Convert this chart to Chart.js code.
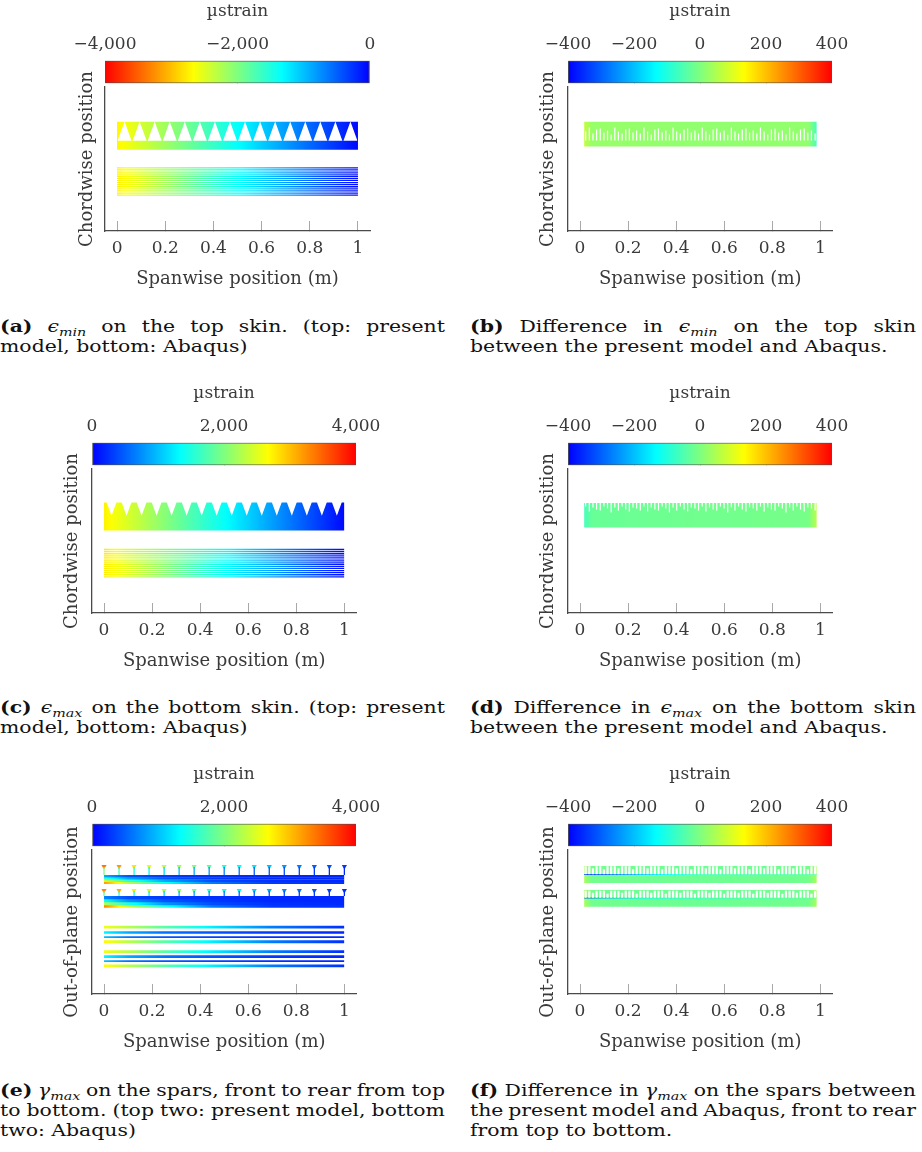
<!DOCTYPE html>
<html><head><meta charset="utf-8">
<script src="https://cdn.jsdelivr.net/npm/chart.js@4.4.1/dist/chart.umd.min.js"></script>
<style>
html,body{margin:0;padding:0;background:#fff;}
body{width:922px;height:1152px;position:relative;overflow:hidden;font-family:"DejaVu Serif",serif;}
canvas{position:absolute;}
.cap{position:absolute;font-size:17px;line-height:20px;color:#111;transform:scaleX(1.2);transform-origin:0 0;white-space:nowrap;}
.cap .j{text-align:justify;text-align-last:justify;word-spacing:-3px;}
.cap sub{font-size:0.7em;vertical-align:-0.3em;line-height:0;font-style:italic;}
</style></head><body>

<div class="cap" style="left:0px;top:316px;width:370.8px">
<div class="j"><b>(a)</b> <i>ϵ</i><sub>min</sub> on the top skin. (top: present</div>
<div>model, bottom: Abaqus)</div></div>
<div class="cap" style="left:470px;top:316px;width:371.7px">
<div class="j"><b>(b)</b> Difference in <i>ϵ</i><sub>min</sub> on the top skin</div>
<div>between the present model and Abaqus.</div></div>
<div class="cap" style="left:0px;top:697px;width:370.8px">
<div class="j"><b>(c)</b> <i>ϵ</i><sub>max</sub> on the bottom skin. (top: present</div>
<div>model, bottom: Abaqus)</div></div>
<div class="cap" style="left:470px;top:697px;width:371.7px">
<div class="j"><b>(d)</b> Difference in <i>ϵ</i><sub>max</sub> on the bottom skin</div>
<div>between the present model and Abaqus.</div></div>
<div class="cap" style="left:0px;top:1080px;width:370.8px">
<div class="j"><b>(e)</b> <i>γ</i><sub>max</sub> on the spars, front to rear from top</div>
<div class="j">to bottom. (top two: present model, bottom</div>
<div>two: Abaqus)</div></div>
<div class="cap" style="left:470px;top:1080px;width:371.7px">
<div class="j"><b>(f)</b> Difference in <i>γ</i><sub>max</sub> on the spars between</div>
<div class="j">the present model and Abaqus, front to rear</div>
<div>from top to bottom.</div></div>

<script>
// ===================== DATA =====================
const X_TICKS = [0, 0.2, 0.4, 0.6, 0.8, 1];
const STRAIN_CB_TICKS_NEG = [-4000, -2000, 0];
const STRAIN_CB_TICKS_POS = [0, 2000, 4000];
const DIFF_CB_TICKS = [-400, -200, 0, 200, 400];

// stiffener (stringer run-out / rib) positions along the span
const STIFFENERS = [0.03125, 0.09375, 0.15625, 0.21875, 0.28125, 0.34375, 0.40625, 0.46875,
                    0.53125, 0.59375, 0.65625, 0.71875, 0.78125, 0.84375, 0.90625, 0.96875];
const RIB_STATIONS = [0, 0.0625, 0.125, 0.1875, 0.25, 0.3125, 0.375, 0.4375, 0.5,
                      0.5625, 0.625, 0.6875, 0.75, 0.8125, 0.875, 0.9375, 1];
const SPAN_STATIONS = [0, 0.25, 0.5, 0.75, 1];
const ROOT_STATIONS = [0, 0.1, 0.25, 0.45, 0.7, 1];

// (a) eps_min, top skin (µstrain)
const A_MODEL = [-2720, -2030, -1350, -680, -30];
const A_ABAQUS = [-2760, -2050, -1360, -690, -30];
const A_ABAQUS_ROWS = [80.0, 82.1, 84.2, 86.3, 88.4, 90.5, 92.6, 94.7, 96.8, 98.9, 101.0, 103.1, 105.2, 107.3];

// (b) difference eps_min
const B_DIFF_X = [0.017, 0.05, 0.5, 0.95, 0.985];
const B_DIFF = [70, 25, 18, 20, -60];
const B_SPIKE_LEN = [9,13,7,11,12,8,10,6,13,9,7,11,12,8,10,7,13,9,6,11,12,8,10,6,13,9,7,11,12,8,10,7,
                     13,9,6,11,12,8,10,6,13,9,7,11,12,8,10,7,13,9,6,11,12,8,10,6,13,9,7,11,12,8,10,7];

// (c) eps_max, bottom skin
const C_MODEL = [2740, 2050, 1360, 690, 40];
const C_ABAQUS = [2780, 2070, 1370, 700, 40];
const C_ABAQUS_ROWS = [79.7, 81.8, 83.9, 86.0, 88.1, 90.2, 92.3, 94.4, 96.5, 98.6, 100.7, 102.8, 104.9, 107.0];

// (d) difference eps_max
const D_DIFF_X = [0.017, 0.05, 0.5, 0.95, 0.985];
const D_DIFF = [-60, -25, -15, -10, 60];
const D_SPIKE_LEN = [4,9,5,7,8,4,6,10,5,8,4,7,9,5,6,8,4,9,5,7,8,4,6,10,5,8,4,7,9,5,6,8,
                     4,9,5,7,8,4,6,10,5,8,4,7,9,5,6,8,4,9,5,7,8,4,6,10,5,8,4,7,9,5,6,8];

// (e) gamma_max, spars (present model: heads + webs; Abaqus: lines)
const E_HEAD_1 = [3400, 3200, 2800, 2500, 2300, 2150, 2000, 1800, 1500, 1350, 1200, 1000, 800, 650, 500, 400, 300];
const E_HEAD_2 = [3300, 3100, 2750, 2450, 2250, 2100, 1900, 1600, 1450, 1300, 1100, 900, 750, 600, 450, 350, 250];
const E_STEM_1 = [2000, 1700, 1500, 1300, 1150, 1000, 900, 800, 700, 600, 500, 450, 400, 350, 300, 250, 200];
const E_STEM_2 = [1900, 1600, 1400, 1250, 1100, 950, 850, 750, 650, 550, 500, 450, 400, 350, 300, 250, 200];
const E_SPAR1_ROWS = [[25, 27.3], [27.3, 29.6], [29.6, 31.8], [31.8, 34]];
const E_SPAR1 = [[900, 450, 300, 250, 200, 200], [1600, 900, 450, 300, 200, 200],
                 [2400, 1600, 900, 400, 250, 200], [3200, 2300, 1400, 650, 300, 250]];
const E_SPAR2_ROWS = [[46, 49], [49, 52], [52, 55], [55, 57.7]];
const E_SPAR2 = [[700, 400, 300, 250, 200, 200], [1400, 800, 450, 300, 200, 200],
                 [2300, 1500, 800, 400, 250, 200], [3300, 2400, 1500, 650, 300, 250]];
const E_ABAQUS_ROWS = [[75.7, 78.3], [81, 83.7], [86, 87.7], [90, 93], [100, 102.7], [105, 107.7], [110, 111.7], [114.3, 117]];
const E_ABAQUS = [[2600, 2300, 1800, 1250, 650, 250], [1300, 900, 600, 450, 300, 200],
                  [1000, 600, 450, 350, 250, 200], [2700, 2300, 1800, 1250, 650, 250],
                  [2600, 2300, 1800, 1250, 650, 250], [1300, 900, 600, 450, 300, 200],
                  [1000, 600, 450, 350, 250, 200], [2700, 2300, 1800, 1250, 650, 250]];

// (f) difference gamma_max
const F_DIFF_X = [0.017, 0.05, 0.5, 0.95, 0.985];
const F_DIFF_1 = [40, -15, -20, -15, 40];
const F_DIFF_2 = [40, -15, -20, -15, 40];
const F_EDGE_X = [0.017, 0.1, 0.25, 0.5, 0.985];
const F_EDGE_1 = [-330, -300, -200, -60, -40];
const F_EDGE_2 = [-300, -220, -150, -90, -40];
const F_SPIKE_1 = [8,8,6,8,8,5,8,8,8,6,8,8,8,5,8,8,8,6,8,8,8,5,8,8,8,6,8,8,8,5,8,8,
                   8,6,8,8,8,5,8,8,8,6,8,8,8,5,8,8,8,6,8,8,8,5,8,8,8,6,8,8,8,5,8,8];
const F_SPIKE_2 = [7,7,5,7,7,7,4,7,7,7,5,7,7,7,4,7,7,7,5,7,7,7,4,7,7,7,5,7,7,7,4,7,
                   7,7,5,7,7,7,4,7,7,7,5,7,7,7,4,7,7,7,5,7,7,7,4,7,7,7,5,7,7,7,4,7];

// ===================== HELPERS =====================
const LH = 17 * 1.2;
const FONT = {family: '"DejaVu Serif", serif', size: 17};
const TFONT = {family: '"DejaVu Serif", serif', size: 18};
const TLH = 18 * 1.2;
const TXT = '#3a3a3a';
Chart.defaults.font.family = FONT.family;
const CMAP = [[0, [0, 0, 255]], [1/3, [0, 255, 255]], [2/3, [255, 255, 0]], [1, [255, 0, 0]]];
function rgb(c){ return 'rgb(' + c.map(Math.round).join(',') + ')'; }
function cmap(t){
  t = Math.max(0, Math.min(1, t));
  for (let i = 1; i < CMAP.length; i++) {
    if (t <= CMAP[i][0]) {
      const [t0, c0] = CMAP[i-1], [t1, c1] = CMAP[i];
      const f = (t - t0) / (t1 - t0);
      return rgb(c0.map((c, k) => c + (c1[k] - c) * f));
    }
  }
  return rgb(CMAP[CMAP.length-1][1]);
}
function colorOf(v, cb){ let t = (v - cb.min) / (cb.max - cb.min); if (cb.reverse) t = 1 - t; return cmap(t); }
function interp(xs, vs, x){
  if (x <= xs[0]) return vs[0];
  for (let i = 1; i < xs.length; i++) if (x <= xs[i]) { const f = (x - xs[i-1]) / (xs[i] - xs[i-1]); return vs[i-1] + (vs[i] - vs[i-1]) * f; }
  return vs[vs.length-1];
}
function grad(cb, xs, vs){
  return (ctx) => {
    const ch = ctx.chart;
    if (!ch.chartArea) return colorOf(vs[0], cb);
    const sx = ch.scales.x, a = xs[0], b = xs[xs.length-1];
    const g = ch.ctx.createLinearGradient(sx.getPixelForValue(a), 0, sx.getPixelForValue(b), 0);
    for (let k = 0; k <= 60; k++) { const f = k / 60; g.addColorStop(f, colorOf(interp(xs, vs, a + (b - a) * f), cb)); }
    return g;
  };
}
const NONE = 'rgba(0,0,0,0)';
function band(x0, x1, y0, y1, bg, order){
  return {type: 'line', data: [{x: x0, y: y0}, {x: x1, y: y0}], fill: {value: y1}, backgroundColor: bg,
          borderColor: NONE, borderWidth: 0, pointRadius: 0, order: order ?? 5};
}
function teethUp(pos, hw, yApex, yBase){
  const pts = []; pos.forEach(s => pts.push({x: s - hw, y: yBase}, {x: s, y: yApex}, {x: s + hw, y: yBase}));
  return {type: 'line', data: pts, fill: {value: yBase}, backgroundColor: '#fff', borderColor: NONE, borderWidth: 0, pointRadius: 0, order: 2};
}
function teethDown(pos, hw, yTop, yApex){
  const pts = []; pos.forEach(s => pts.push({x: s - hw, y: yTop}, {x: s, y: yApex}, {x: s + hw, y: yTop}));
  return {type: 'line', data: pts, fill: {value: yTop}, backgroundColor: '#fff', borderColor: NONE, borderWidth: 0, pointRadius: 0, order: 2};
}
function combX(n, a, b){ const xs = []; for (let i = 0; i < n; i++) xs.push(a + (b - a) * i / (n - 1)); return xs; }
function spikes(xs, yFrom, lens, dir, width){
  const pts = [];
  xs.forEach((x, i) => pts.push({x, y: yFrom}, {x, y: yFrom + dir * lens[i]}, {x, y: null}));
  return {type: 'line', data: pts, borderColor: '#fff', borderWidth: width, pointRadius: 0, fill: false, spanGaps: false, order: 2};
}
function stems(xs, y0, y1, vals, cb){
  const pts = [];
  xs.forEach(x => pts.push({x, y: y0}, {x, y: y1}, {x, y: null}));
  return {type: 'line', data: pts, borderColor: colorOf(vals[0], cb), borderWidth: 1.3, pointRadius: 0, fill: false, spanGaps: false, order: 1,
          segment: {borderColor: c => colorOf(vals[Math.floor(c.p0DataIndex / 3)], cb)}};
}
function heads(xs, y, vals, cb){
  return {type: 'line', data: xs.map(x => ({x, y})), showLine: false, pointStyle: 'triangle', pointRotation: 180,
          pointRadius: 3, pointBackgroundColor: vals.map(v => colorOf(v, cb)), pointBorderWidth: 0, order: 1};
}
function fmtNum(v){ return (v < 0 ? '\u2212' : '') + Math.abs(v).toLocaleString('en-US'); }

// ===================== PANELS =====================
const CB_STRAIN_NEG = {min: -4000, max: 0, reverse: true, ticks: STRAIN_CB_TICKS_NEG};
const CB_STRAIN_POS = {min: 0, max: 4000, reverse: false, ticks: STRAIN_CB_TICKS_POS};
const CB_DIFF = {min: -400, max: 400, reverse: false, ticks: DIFF_CB_TICKS};
const ROW_DY = [0, 381.5, 762.6];
const ROW0 = {cbTitleY: 12, cbLabelY: 44.3, cbTop: 60.7, cbBot: 83.3, plotTop: 87.3, plotBot: 231, tickY: 248.3, xTitleY: 279.3};
function rowGeom(r){ const o = {}; for (const k in ROW0) o[k] = ROW0[k] + ROW_DY[r]; return o; }

const combB = combX(64, 0.0235, 0.978);
const panels = [
  {row: 0, plotLeft: 105, plotRight: 370, ylabelX: 87, ylabel: 'Chordwise position', cb: CB_STRAIN_NEG,
   sets: cb => [
     band(0, 1, 34.7, 62.7, grad(cb, SPAN_STATIONS, A_MODEL)),
     teethUp(STIFFENERS, 0.029, 34.4, 53.7),
     ...A_ABAQUS_ROWS.map(r => band(0, 1, r, r + 1.3, grad(cb, SPAN_STATIONS, A_ABAQUS)))
   ]},
  {row: 0, plotLeft: 568.3, plotRight: 832.7, ylabelX: 549, ylabel: 'Chordwise position', cb: CB_DIFF,
   sets: cb => [
     band(0.017, 0.985, 34.7, 59.4, grad(cb, B_DIFF_X, B_DIFF)),
     spikes(combB, 53.4, B_SPIKE_LEN, -1, 1.2)
   ]},
  {row: 1, plotLeft: 92.3, plotRight: 356.7, ylabelX: 72.3, ylabel: 'Chordwise position', cb: CB_STRAIN_POS,
   sets: cb => [
     band(0, 1, 33.4, 61.4, grad(cb, SPAN_STATIONS, C_MODEL)),
     teethDown(STIFFENERS, 0.021, 32.9, 46.7),
     ...C_ABAQUS_ROWS.map(r => band(0, 1, r, r + 1.3, grad(cb, SPAN_STATIONS, C_ABAQUS)))
   ]},
  {row: 1, plotLeft: 568.3, plotRight: 832.7, ylabelX: 549, ylabel: 'Chordwise position', cb: CB_DIFF,
   sets: cb => [
     band(0.017, 0.985, 34, 58.4, grad(cb, D_DIFF_X, D_DIFF)),
     spikes(combB, 33.5, D_SPIKE_LEN, 1, 1.2)
   ]},
  {row: 2, plotLeft: 92.3, plotRight: 356.7, ylabelX: 72.3, ylabel: 'Out-of-plane position', cb: CB_STRAIN_POS,
   sets: cb => [
     ...E_SPAR1_ROWS.map((r, i) => band(0, 1, r[0], r[1] + 0.05, grad(cb, ROOT_STATIONS, E_SPAR1[i]))),
     ...E_SPAR2_ROWS.map((r, i) => band(0, 1, r[0], r[1] + 0.05, grad(cb, ROOT_STATIONS, E_SPAR2[i]))),
     stems(RIB_STATIONS, 17, 25, E_STEM_1, cb),
     heads(RIB_STATIONS, 16.5, E_HEAD_1, cb),
     stems(RIB_STATIONS, 41, 46, E_STEM_2, cb),
     heads(RIB_STATIONS, 40.5, E_HEAD_2, cb),
     ...E_ABAQUS_ROWS.map((r, i) => band(0, 1, r[0], r[1], grad(cb, ROOT_STATIONS, E_ABAQUS[i])))
   ]},
  {row: 2, plotLeft: 568.3, plotRight: 832.7, ylabelX: 549, ylabel: 'Out-of-plane position', cb: CB_DIFF,
   sets: cb => [
     band(0.017, 0.985, 16, 33, grad(cb, F_DIFF_X, F_DIFF_1)),
     band(0.017, 0.985, 24, 24.9, grad(cb, F_EDGE_X, F_EDGE_1), 4),
     spikes(combB, 24.2, F_SPIKE_1, -1, 2.2),
     band(0.017, 0.985, 40, 56.7, grad(cb, F_DIFF_X, F_DIFF_2)),
     band(0.017, 0.985, 47.4, 48.3, grad(cb, F_EDGE_X, F_EDGE_2), 4),
     spikes(combB, 47.6, F_SPIKE_2, -1, 2.2)
   ]}
];

// ===================== CHARTS =====================
function addCanvas(left, top, w, h){
  const c = document.createElement('canvas');
  c.width = Math.round(w); c.height = Math.round(h);
  c.style.left = left + 'px'; c.style.top = top + 'px';
  c.style.width = Math.round(w) + 'px'; c.style.height = Math.round(h) + 'px';
  document.body.appendChild(c);
  return c;
}
function makeColorbar(p, g){
  const PAD = 50, cb = p.cb;
  const left = p.plotLeft - PAD, top = g.cbTitleY - 14;
  const cbW = p.plotRight - p.plotLeft, cbH = g.cbBot - g.cbTop, CH = g.cbTop - top;
  const c = addCanvas(left, top, cbW + 2 * PAD, CH + cbH + 3);
  new Chart(c, {
    type: 'bar',
    data: {labels: ['µstrain'], datasets: [{data: [[cb.min, cb.max]],
      backgroundColor: (ctx) => {
        const ch = ctx.chart; if (!ch.chartArea) return '#888';
        const sx = ch.scales.x;
        const gr = ch.ctx.createLinearGradient(sx.getPixelForValue(cb.min), 0, sx.getPixelForValue(cb.max), 0);
        CMAP.forEach(([t, col]) => gr.addColorStop(cb.reverse ? 1 - t : t, rgb(col)));
        return gr;
      },
      borderColor: '#505050', borderWidth: 1.2, borderSkipped: false, barPercentage: 1, categoryPercentage: 1}]},
    options: {indexAxis: 'y', responsive: false, animation: false, devicePixelRatio: 1,
      layout: {padding: {left: PAD, right: PAD, top: 0, bottom: c.height - CH - cbH}},
      plugins: {legend: {display: false}, tooltip: {enabled: false}},
      scales: {
        x: {type: 'linear', position: 'top', min: cb.min, max: cb.max, z: 1,
            afterBuildTicks: s => { s.ticks = cb.ticks.map(v => ({value: v})); },
            ticks: {callback: v => fmtNum(v), font: FONT, color: TXT, padding: g.cbTop - g.cbLabelY - LH / 2, maxRotation: 0, autoSkip: false},
            grid: {drawOnChartArea: true, drawTicks: false, lineWidth: 1,
                   color: ctx => (ctx.tick && ctx.tick.value > cb.min && ctx.tick.value < cb.max) ? '#8c8c8c' : NONE},
            border: {display: false},
            title: {display: true, text: 'µstrain', font: FONT, color: TXT, padding: {top: 14 - LH / 2, bottom: 0}},
            afterFit: s => { s.height = CH; }},
        y: {display: false}
      }}
  });
}
function makePlot(p, g){
  const YW = 34, PT = 40, XH = 72, PR = 16, TICKLEN = 10;
  const plotW = p.plotRight - p.plotLeft, plotH = g.plotBot - g.plotTop;
  const left = p.plotLeft - YW, top = g.plotTop - PT;
  const c = addCanvas(left, top, YW + plotW + PR, PT + plotH + XH);
  new Chart(c, {
    type: 'line',
    data: {datasets: p.sets(p.cb)},
    options: {responsive: false, animation: false, devicePixelRatio: 1,
      layout: {padding: {left: 0, right: c.width - YW - plotW, top: PT, bottom: 0}},
      plugins: {legend: {display: false}, tooltip: {enabled: false}},
      elements: {line: {tension: 0}, point: {radius: 0, hoverRadius: 0}},
      scales: {
        x: {type: 'linear', min: -0.05, max: 1.05,
            afterBuildTicks: s => { s.ticks = X_TICKS.map(v => ({value: v})); },
            ticks: {callback: v => String(v), font: FONT, color: TXT, padding: g.tickY - g.plotBot + TICKLEN - LH / 2, maxRotation: 0, autoSkip: false},
            grid: {drawOnChartArea: false, drawTicks: true, tickLength: -TICKLEN, color: '#a8a8a8', lineWidth: 1},
            border: {display: true, color: '#4a4a4a', width: 1.3},
            title: {display: true, text: 'Spanwise position (m)', font: TFONT, color: TXT,
                    padding: {top: 0, bottom: (g.plotBot + XH) - g.xTitleY - TLH / 2}},
            afterFit: s => { s.height = XH; }},
        y: {type: 'linear', min: 0, max: plotH, reverse: true,
            ticks: {display: false},
            grid: {display: true, drawOnChartArea: false, drawTicks: false},
            border: {display: true, color: '#4a4a4a', width: 1.3},
            title: {display: true, text: p.ylabel, font: TFONT, color: TXT, padding: {top: p.ylabelX - left - TLH / 2, bottom: 0}},
            afterFit: s => { s.width = YW; }}
      }}
  });
}
panels.forEach(p => { const g = rowGeom(p.row); makeColorbar(p, g); makePlot(p, g); });
</script>
</body></html>
